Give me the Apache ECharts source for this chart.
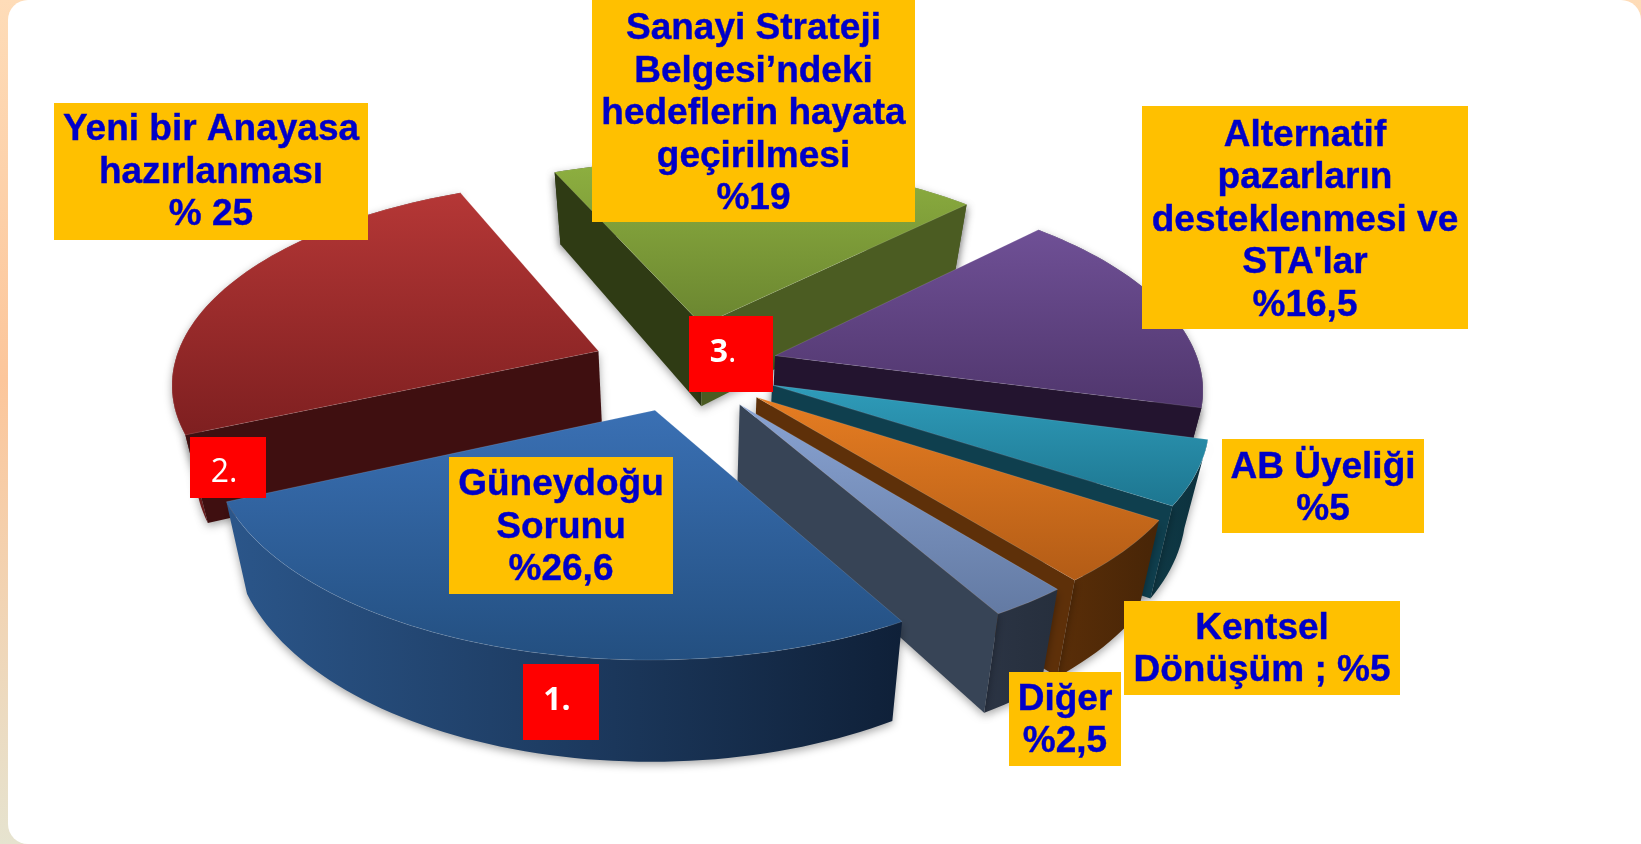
<!DOCTYPE html>
<html>
<head>
<meta charset="utf-8">
<title>Pie</title>
<script src="https://cdn.jsdelivr.net/npm/echarts@6/dist/echarts.min.js"></script>
<style>
html, body { margin: 0; padding: 0; background: #fff; }
#main { width: 1641px; height: 844px; }
</style>
</head>
<body>
<div id="main"></div>
<script>
var categories = ['Güneydoğu Sorunu', 'Yeni bir Anayasa hazırlanması', 'Sanayi Stratejisi', 'Alternatif pazarlar ve STA', 'AB Üyeliği', 'Kentsel Dönüşüm', 'Diğer'];
var values = [26.6, 25, 19, 16.5, 5, 5, 2.5];
var labelTexts = [
    'Güneydoğu\nSorunu\n%26,6',
    'Yeni bir Anayasa\nhazırlanması\n% 25',
    'Sanayi Strateji\nBelgesi’ndeki\nhedeflerin hayata\ngeçirilmesi\n%19',
    'Alternatif\npazarların\ndesteklenmesi ve\nSTA\'lar\n%16,5',
    'AB Üyeliği\n%5',
    'Kentsel\nDönüşüm ; %5',
    'Diğer\n%2,5'
];

// slice colours: top (far, near), wall (left, right), cut faces (start, end)
var palette = [
    { top: ['#3a70b4', '#234f80'], wall: ['#2b568a', '#0f2038'], cut: ['#14263f', '#14263f'] },
    { top: ['#b53736', '#7e1f20'], wall: ['#842324', '#5c1516'], cut: ['#3f0f10', '#3f0f10'] },
    { top: ['#8eb040', '#6a8530'], wall: ['#2c3812', '#56692a'], cut: ['#2f3b14', '#4b5c22'] },
    { top: ['#6f5096', '#50366d'], wall: ['#3d2a55', '#2a1c3c'], cut: ['#23142f', '#23142f'] },
    { top: ['#2f9cba', '#1d7690'], wall: ['#0f3a47', '#0c303c'], cut: ['#0f3f4e', '#0f3f4e'] },
    { top: ['#e67d22', '#b35c16'], wall: ['#5a2e08', '#472507'], cut: ['#5e3009', '#5e3009'] },
    { top: ['#89a3d2', '#637aa3'], wall: ['#2b3444', '#262f3d'], cut: ['#374456', '#374456'] }
];
var paintOrder = [2, 1, 3, 4, 5, 6, 0];

var cx = 685, cy = 367, R = 425, tilt = 0.47, persp = 0.00034, explode = 94, depth = 84, lean = 0.045;
var startDeg = 60;

var total = values.reduce(function (a, b) { return a + b; }, 0);
var rows = [];
var run = 0;
values.forEach(function (v, i) {
    var from = echarts.number.linearMap(run, [0, total], [startDeg, startDeg + 360]);
    run += v;
    var to = echarts.number.linearMap(run, [0, total], [startDeg, startDeg + 360]);
    rows[i] = [from, to, i];
});

function project(u, v, low) {
    var s = 1 / (1 - v * persp);
    var x = u * s, y = v * tilt * s;
    if (low) {
        x = x * (1 - lean);
        y = y + depth * s;
    }
    return [cx + x, cy + y];
}

function renderSlice(params, api) {
    var from = api.value(0), to = api.value(1), c = palette[api.value(2)];
    var mid = (from + to) / 2 * Math.PI / 180;
    var ox = explode * Math.cos(mid), oy = explode * Math.sin(mid);

    var arcTop = [], arcLow = [];
    for (var d = from; d < to; d += 1.5) push(d);
    push(to);
    function push(deg) {
        var a = deg * Math.PI / 180;
        var u = ox + R * Math.cos(a), v = oy + R * Math.sin(a);
        arcTop.push(project(u, v, false));
        arcLow.push(project(u, v, true));
    }
    var apexTop = project(ox, oy, false), apexLow = project(ox, oy, true);
    var last = arcTop.length - 1;
    var shadow = { shadowBlur: 9, shadowColor: 'rgba(0,0,0,0.35)', shadowOffsetY: 3 };

    function face(points, fill) {
        return { type: 'polygon', shape: { points: points }, style: Object.assign({ fill: fill }, shadow) };
    }
    var wallFill = new echarts.graphic.LinearGradient(0, 0, 1, 0, [
        { offset: 0, color: c.wall[0] }, { offset: 1, color: c.wall[1] }
    ]);
    var topFill = new echarts.graphic.LinearGradient(0, 0, 0, 1, [
        { offset: 0, color: c.top[0] }, { offset: 1, color: c.top[1] }
    ]);

    // only the cut faces turned towards the viewer are drawn
    var children = [face(arcTop.concat(arcLow.slice().reverse()), wallFill)];
    if (Math.sin((from - 90) * Math.PI / 180) > 0) {
        children.push(face([apexTop, arcTop[0], arcLow[0], apexLow], c.cut[0]));
    }
    if (Math.sin((to + 90) * Math.PI / 180) > 0) {
        children.push(face([apexTop, arcTop[last], arcLow[last], apexLow], c.cut[1]));
    }
    children.push({
        type: 'polygon',
        shape: { points: [apexTop].concat(arcTop) },
        style: { fill: topFill, stroke: 'rgba(255,255,255,0.12)', lineWidth: 1 }
    });
    return { type: 'group', children: children };
}

// x, y, width, height, text shift
var labelBoxes = [
    [449, 457, 224, 137, 2],
    [54, 103, 314, 137, 1],
    [592, -10, 323, 232, 8],
    [1142, 106, 326, 223, 3],
    [1222, 439, 202, 94, 3],
    [1124, 601, 276, 94, 2],
    [1009, 672, 112, 94, 2]
];

var rankBoxes = [
    { box: [523, 664, 76, 76], text: '{b|1.}', dx: -4, dy: -1 },
    { box: [190, 437, 76, 61], text: '{r|2.}', dx: -4, dy: 5 },
    { box: [689, 316, 84, 76], text: '{b|3}{r|.}', dx: -8, dy: -1 }
];

var boxes = [];
labelTexts.forEach(function (t, i) {
    var b = labelBoxes[i];
    boxes.push({ type: 'rect', z: 10, shape: { x: b[0], y: b[1], width: b[2], height: b[3] }, style: { fill: '#ffc000' } });
    boxes.push({
        type: 'text', z: 11, x: b[0] + b[2] / 2, y: b[1] + b[3] / 2 + b[4],
        style: {
            text: t, align: 'center', verticalAlign: 'middle',
            fontFamily: 'Liberation Sans', fontWeight: 'bold', fontSize: 37, lineHeight: 42.5,
            fill: '#0000c8', stroke: '#0000c8', lineWidth: 0.4
        }
    });
});
rankBoxes.forEach(function (r) {
    var b = r.box;
    boxes.push({ type: 'rect', z: 10, shape: { x: b[0], y: b[1], width: b[2], height: b[3] }, style: { fill: '#ff0000' } });
    boxes.push({
        type: 'text', z: 11, x: b[0] + b[2] / 2 + r.dx, y: b[1] + b[3] / 2 + r.dy,
        style: {
            text: r.text, align: 'center', verticalAlign: 'middle',
            rich: {
                b: { fontFamily: 'Open Sans', fontWeight: 'bold', fontSize: 32, fill: '#fff' },
                r: { fontFamily: 'Open Sans', fontSize: 32, fill: '#fff' }
            }
        }
    });
});

var backdrop = [
    {
        type: 'rect', z: -2, shape: { x: 0, y: 0, width: 1641, height: 844 },
        style: {
            fill: new echarts.graphic.LinearGradient(0, 0, 0, 1, [
                { offset: 0, color: '#fedcb8' },
                { offset: 0.45, color: '#fcc69b' },
                { offset: 1, color: '#e6e3cf' }
            ])
        }
    },
    { type: 'rect', z: -1, shape: { x: 8, y: 0, width: 1633, height: 844, r: [20, 20, 0, 20] }, style: { fill: '#fff' } }
];

var myChart = echarts.init(document.getElementById('main'));
myChart.setOption({
    animation: false,
    graphic: { elements: backdrop.concat(boxes) },
    series: [{
        type: 'custom',
        name: 'Sorunlar',
        coordinateSystem: 'none',
        silent: true,
        renderItem: renderSlice,
        encode: { tooltip: 2 },
        data: paintOrder.map(function (i) {
            return { name: categories[i], value: rows[i] };
        })
    }]
});
</script>
</body>
</html>
